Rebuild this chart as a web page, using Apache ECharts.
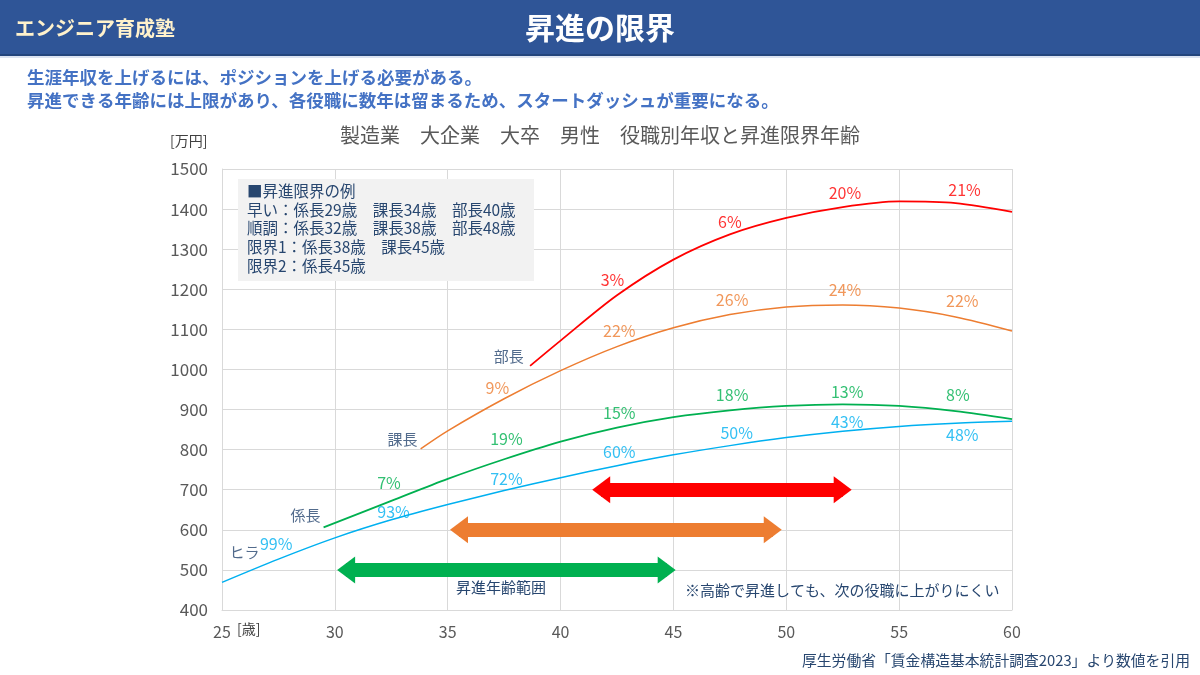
<!DOCTYPE html>
<html>
<head>
<meta charset="utf-8">
<script src="https://cdn.jsdelivr.net/npm/echarts@6/dist/echarts.min.js"></script>
<style>
html,body{margin:0;padding:0;background:#fff;}
#chart{width:1200px;height:675px;}
</style>
</head>
<body>
<div id="chart"></div>
<script>
// 年齢 / 年収（万円）
var hiraData   = [[25,469],[27.5,527],[30,580],[32.5,625],[35,663],[37.5,698],[40,730],[42.5,760],[45,787],[47.5,810],[50,830],[52.5,846],[55,858],[57.5,866],[60,871]];
var kakariData = [[29.5,606],[32.5,672],[35,727],[37.5,776],[40,820],[42.5,855],[45,881],[47.5,898],[50,909],[52.5,913],[55,909],[57.5,896],[60,876]];
var kachoData  = [[33.8,802],[35,847],[37.5,927],[40,997],[42.5,1057],[45,1104],[47.5,1137],[50,1156],[52.5,1161],[55,1153],[57.5,1131],[60,1096]];
var buchoData  = [[38.65,1009],[40,1072],[42.5,1185],[45,1274],[47.5,1337],[50,1378],[52.5,1405],[55,1419],[57.5,1415],[60,1393]];

// 割合ラベル [年齢, 年収, 表示]
var hiraPct   = [[27.4,565,'99%'],[32.6,644,'93%'],[37.6,727,'72%'],[42.6,795,'60%'],[47.8,842,'50%'],[52.7,870,'43%'],[57.8,836,'48%']];
var kakariPct = [[32.4,717,'7%'],[37.6,826,'19%'],[42.6,892,'15%'],[47.6,936,'18%'],[52.7,944,'13%'],[57.6,936,'8%']];
var kachoPct  = [[37.2,955,'9%'],[42.6,1096,'22%'],[47.6,1173,'26%'],[52.6,1198,'24%'],[57.8,1171,'22%']];
var buchoPct  = [[42.3,1223,'3%'],[47.5,1368,'6%'],[52.6,1441,'20%'],[57.9,1449,'21%']];

// 役職名ラベル
var roleLabels = [[26.0,545,'ヒラ'],[28.7,637,'係長'],[33.0,826,'課長'],[37.7,1032,'部長']];

// 昇進年齢範囲の矢印 [開始, 終了, 年収位置]
var arrowRed    = [41.8, 52.5, 700];
var arrowOrange = [35.5, 49.4, 600];
var arrowGreen  = [30.5, 44.7, 500];

var xTicks = {min:25, max:60, interval:5};
var yTicks = {min:400, max:1500, interval:100};

var JP = '"Noto Sans CJK JP", "Noto Sans", sans-serif';
var navy = '#27466f';

function pctSeries(data, color){
    return {
        type:'scatter',
        data:data,
        symbolSize:0,
        silent:true,
        z:5,
        label:{show:true, position:'inside', color:color, fontSize:16, fontFamily:JP,
            formatter:function(p){ return p.data[2]; }}
    };
}
function lineSeries(data, color, width){
    return {
        type:'line', data:data, smooth:0.3, showSymbol:false, silent:true,
        lineStyle:{color:color, width:width}
    };
}
function arrowLine(a, color){
    return {
        silent:true, symbol:['triangle','triangle'], symbolSize:[27,18],
        label:{show:false},
        lineStyle:{color:color, width:14, type:'solid', opacity:1},
        data:[[{coord:[a[0],a[2]]},{coord:[a[1],a[2]]}]]
    };
}

var series = [
    lineSeries(hiraData,'#00b0f0',1.5),
    lineSeries(kakariData,'#00b050',1.8),
    lineSeries(kachoData,'#ed7d31',1.5),
    lineSeries(buchoData,'#ff0000',1.8),
    pctSeries(hiraPct,'#00b0f0'),
    pctSeries(kakariPct,'#00b050'),
    pctSeries(kachoPct,'#ed7d31'),
    pctSeries(buchoPct,'#ff0000'),
    pctSeries(roleLabels, navy)
];
series[8].label.fontSize = 15;
series.push({type:'line', data:[], markLine:arrowLine(arrowRed,'#ff0000')});
series.push({type:'line', data:[], markLine:arrowLine(arrowOrange,'#ed7d31')});
series.push({type:'line', data:[], markLine:arrowLine(arrowGreen,'#00b050')});

var legendLines = [
    '■昇進限界の例',
    '早い：係長29歳　課長34歳　部長40歳',
    '順調：係長32歳　課長38歳　部長48歳',
    '限界1：係長38歳　課長45歳',
    '限界2：係長45歳'
];

var graphic = [
    {type:'rect', shape:{x:0,y:0,width:1200,height:54}, style:{fill:'#2f5597'}},
    {type:'rect', shape:{x:0,y:54,width:1200,height:2}, style:{fill:'#23457c'}},
    {type:'rect', shape:{x:0,y:56,width:1200,height:2}, style:{fill:'#dbe3f1'}},
    {type:'text', x:15, y:28, style:{text:'エンジニア育成塾', fill:'#fff2cc', font:'bold 20px '+JP, verticalAlign:'middle'}},
    {type:'text', x:600, y:28, style:{text:'昇進の限界', fill:'#ffffff', font:'bold 30px '+JP, align:'center', verticalAlign:'middle'}},
    {type:'text', x:27, y:77, style:{text:'生涯年収を上げるには、ポジションを上げる必要がある。', fill:'#4472c4', font:'bold 17.5px '+JP, verticalAlign:'middle'}},
    {type:'text', x:27, y:100, style:{text:'昇進できる年齢には上限があり、各役職に数年は留まるため、スタートダッシュが重要になる。', fill:'#4472c4', font:'bold 17.5px '+JP, verticalAlign:'middle'}},
    {type:'text', x:170, y:141, style:{text:'[万円]', fill:'#404040', font:'14px '+JP, verticalAlign:'middle'}},
    {type:'text', x:237, y:629, style:{text:'[歳]', fill:'#404040', font:'14px '+JP, verticalAlign:'middle'}},
    {type:'rect', z:10, shape:{x:238,y:179,width:296,height:102}, style:{fill:'#f2f2f2'}},
    {type:'text', z:11, x:456, y:587, style:{text:'昇進年齢範囲', fill:navy, font:'15px '+JP, verticalAlign:'middle'}},
    {type:'text', z:11, x:685, y:590, style:{text:'※高齢で昇進しても、次の役職に上がりにくい', fill:navy, font:'15px '+JP, verticalAlign:'middle'}},
    {type:'text', x:1190, y:660, style:{text:'厚生労働省「賃金構造基本統計調査2023」より数値を引用', fill:navy, font:'14.8px '+JP, align:'right', verticalAlign:'middle'}}
];
for (var i=0;i<legendLines.length;i++){
    graphic.push({type:'text', z:11, x:247, y:191+i*18.8,
        style:{text:legendLines[i], fill:navy, font:'15.5px '+JP, verticalAlign:'middle'}});
}

var chart = echarts.init(document.getElementById('chart'));
var option = {
    animation:false,
    backgroundColor:'#ffffff',
    textStyle:{fontFamily:JP},
    title:{
        text:'製造業　大企業　大卒　男性　役職別年収と昇進限界年齢',
        left:'center', top:120,
        textStyle:{color:'#595959', fontSize:20, fontWeight:'normal', fontFamily:JP}
    },
    grid:{left:222, right:188, top:169, bottom:65},
    xAxis:{
        type:'value', min:xTicks.min, max:xTicks.max, interval:xTicks.interval,
        axisLine:{show:true, lineStyle:{color:'#d9d9d9'}},
        axisTick:{show:false},
        axisLabel:{color:'#595959', fontSize:16, margin:14, fontFamily:JP},
        splitLine:{show:true, lineStyle:{color:'#d9d9d9'}}
    },
    yAxis:{
        type:'value', min:yTicks.min, max:yTicks.max, interval:yTicks.interval,
        axisLine:{show:true, lineStyle:{color:'#d9d9d9'}},
        axisTick:{show:false},
        axisLabel:{color:'#595959', fontSize:17, margin:14, fontFamily:JP,
            formatter:function(v){ return String(v); }},
        splitLine:{show:true, lineStyle:{color:'#d9d9d9'}}
    },
    graphic:graphic,
    series:series
};
chart.setOption(option);
</script>
</body>
</html>
